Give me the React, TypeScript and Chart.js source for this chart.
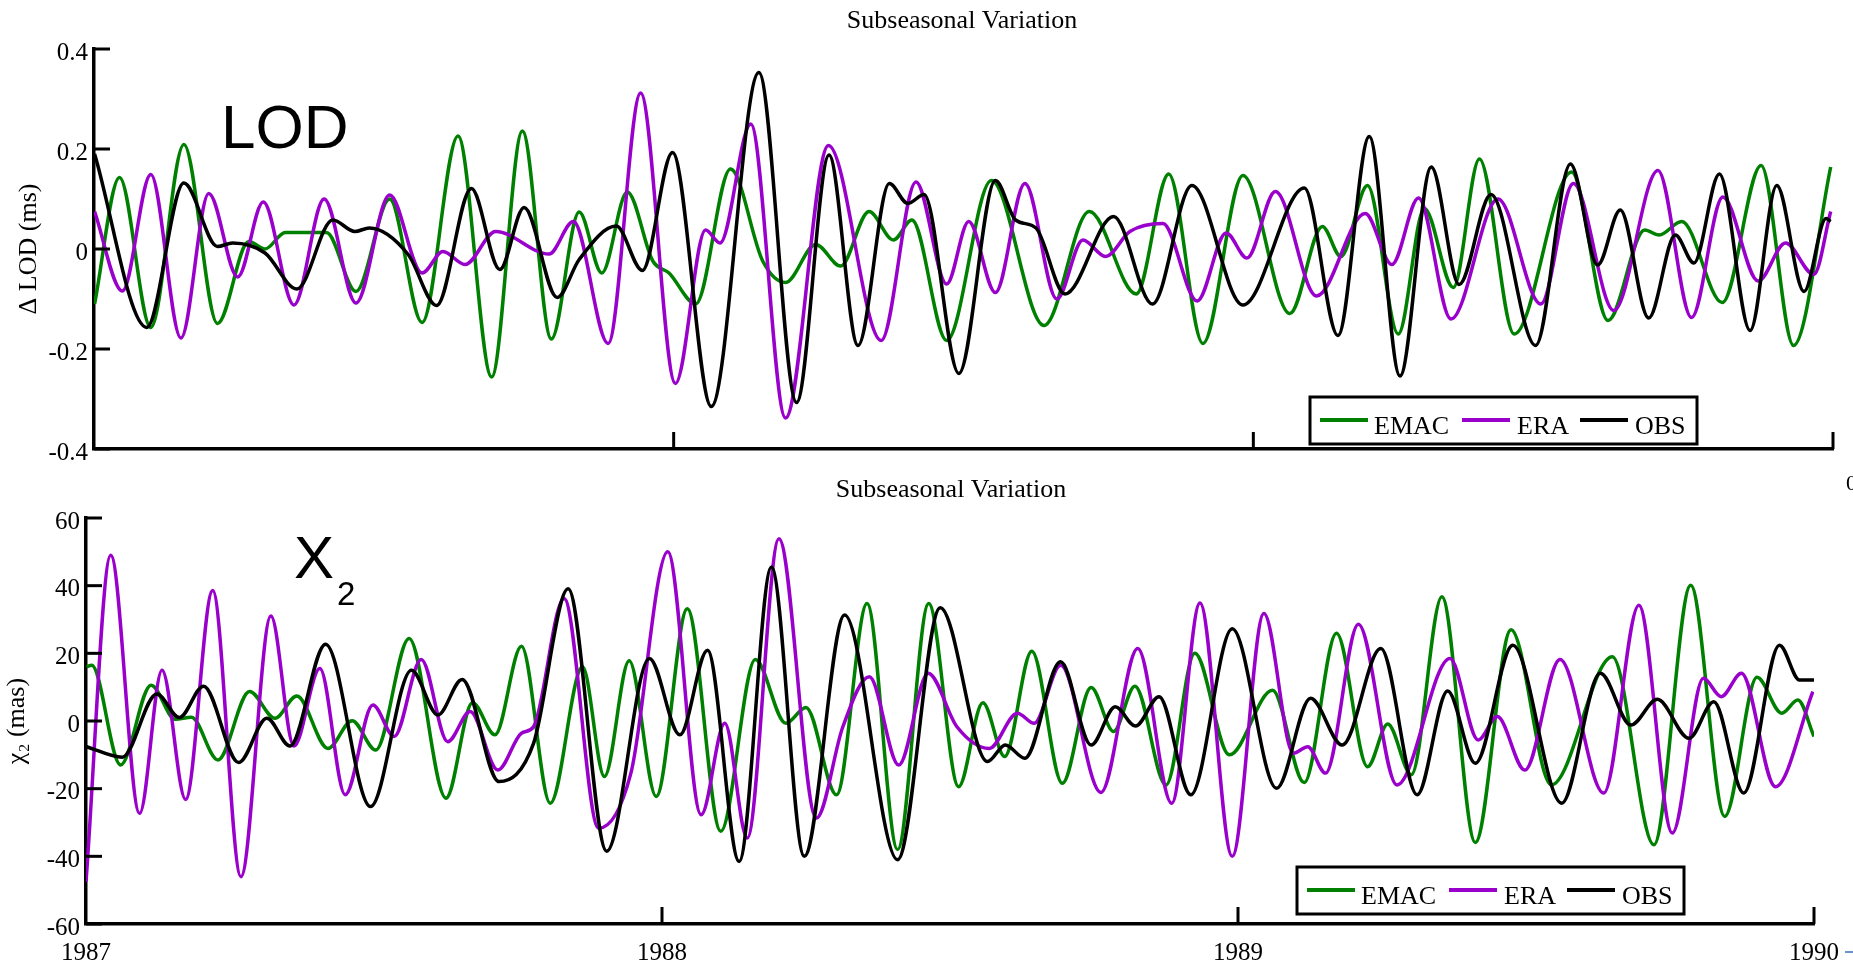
import React, { useEffect, useRef } from "react";
import { Chart, registerables } from "chart.js";

Chart.register(...registerables);

// ---------------- Data ----------------
const yearTicks = [1987, 1988, 1989, 1990];
const lodTicks = [-0.4, -0.2, 0, 0.2, 0.4];
const chiTicks = [-60, -40, -20, 0, 20, 40, 60];
const seriesNames = ["EMAC", "ERA", "OBS"];
const seriesColors = ["#008000", "#9a00cc", "#000000"];

// Top panel: Δ LOD (ms)
const lodEmacYears = [1987.001, 1987.044, 1987.098, 1987.155, 1987.213, 1987.267, 1987.295, 1987.33, 1987.401, 1987.452, 1987.51, 1987.566, 1987.628, 1987.686, 1987.739, 1987.789, 1987.837, 1987.876, 1987.92, 1987.964, 1987.992, 1988.038, 1988.098, 1988.154, 1988.193, 1988.245, 1988.288, 1988.337, 1988.379, 1988.411, 1988.471, 1988.548, 1988.639, 1988.717, 1988.798, 1988.854, 1988.913, 1988.982, 1989.063, 1989.119, 1989.151, 1989.197, 1989.25, 1989.295, 1989.345, 1989.39, 1989.45, 1989.549, 1989.612, 1989.675, 1989.7, 1989.739, 1989.809, 1989.876, 1989.932, 1989.996];
const lodEmacValues = [-0.11, 0.143, -0.157, 0.209, -0.149, 0.015, 0.0, 0.033, 0.033, -0.085, 0.1, -0.147, 0.226, -0.256, 0.236, -0.18, 0.074, -0.048, 0.114, -0.024, -0.048, -0.11, 0.16, -0.025, -0.067, 0.009, -0.034, 0.075, 0.018, 0.058, -0.183, 0.137, -0.153, 0.075, -0.09, 0.15, -0.189, 0.147, -0.129, 0.045, -0.015, 0.127, -0.17, 0.081, -0.077, 0.18, -0.17, 0.154, -0.143, 0.038, 0.028, 0.055, -0.107, 0.167, -0.193, 0.164];

const lodEraYears = [1987.001, 1987.049, 1987.098, 1987.15, 1987.198, 1987.248, 1987.292, 1987.345, 1987.397, 1987.452, 1987.51, 1987.566, 1987.602, 1987.64, 1987.693, 1987.785, 1987.827, 1987.887, 1987.943, 1988.003, 1988.055, 1988.08, 1988.133, 1988.193, 1988.267, 1988.358, 1988.418, 1988.471, 1988.509, 1988.555, 1988.606, 1988.661, 1988.706, 1988.745, 1988.787, 1988.844, 1988.903, 1988.953, 1988.989, 1989.038, 1989.109, 1989.193, 1989.239, 1989.285, 1989.341, 1989.422, 1989.496, 1989.552, 1989.622, 1989.698, 1989.756, 1989.81, 1989.871, 1989.918, 1989.967, 1989.996];
const lodEraValues = [0.075, -0.084, 0.149, -0.178, 0.111, -0.056, 0.094, -0.112, 0.1, -0.108, 0.108, -0.048, -0.005, -0.031, 0.035, -0.01, 0.055, -0.189, 0.312, -0.269, 0.038, 0.012, 0.25, -0.338, 0.207, -0.183, 0.134, -0.07, 0.055, -0.087, 0.131, -0.1, 0.018, -0.015, 0.035, 0.051, -0.104, 0.032, -0.018, 0.115, -0.094, 0.071, -0.031, 0.102, -0.14, 0.1, -0.11, 0.131, -0.123, 0.157, -0.137, 0.104, -0.064, 0.012, -0.051, 0.075];

const lodObsYears = [1987.001, 1987.091, 1987.155, 1987.213, 1987.239, 1987.295, 1987.35, 1987.412, 1987.45, 1987.475, 1987.542, 1987.591, 1987.651, 1987.7, 1987.742, 1987.799, 1987.837, 1987.901, 1987.946, 1987.998, 1988.065, 1988.147, 1988.212, 1988.268, 1988.318, 1988.372, 1988.404, 1988.432, 1988.492, 1988.555, 1988.59, 1988.625, 1988.675, 1988.759, 1988.826, 1988.894, 1988.982, 1989.088, 1989.146, 1989.2, 1989.253, 1989.307, 1989.355, 1989.41, 1989.487, 1989.547, 1989.594, 1989.633, 1989.682, 1989.728, 1989.76, 1989.804, 1989.857, 1989.903, 1989.95, 1989.988, 1989.996];
const lodObsValues = [0.19, -0.157, 0.132, 0.005, 0.012, -0.008, -0.08, 0.058, 0.035, 0.042, -0.011, -0.113, 0.121, -0.041, 0.083, -0.097, -0.021, 0.046, -0.043, 0.193, -0.315, 0.353, -0.307, 0.188, -0.193, 0.131, 0.091, 0.109, -0.249, 0.137, 0.058, 0.042, -0.09, 0.065, -0.11, 0.127, -0.112, 0.122, -0.173, 0.225, -0.254, 0.164, -0.071, 0.109, -0.193, 0.17, -0.032, 0.078, -0.138, 0.028, -0.028, 0.15, -0.163, 0.127, -0.085, 0.061, 0.055];

// Bottom panel: χ2 (mas)
const chiEmacYears = [1987.001, 1987.01, 1987.06, 1987.113, 1987.155, 1987.183, 1987.229, 1987.284, 1987.328, 1987.366, 1987.42, 1987.462, 1987.503, 1987.561, 1987.625, 1987.671, 1987.71, 1987.756, 1987.806, 1987.862, 1987.9, 1987.943, 1987.99, 1988.044, 1988.102, 1988.162, 1988.215, 1988.25, 1988.303, 1988.356, 1988.409, 1988.463, 1988.515, 1988.557, 1988.595, 1988.642, 1988.695, 1988.745, 1988.784, 1988.821, 1988.875, 1988.925, 1988.985, 1989.06, 1989.115, 1989.171, 1989.225, 1989.26, 1989.301, 1989.354, 1989.412, 1989.474, 1989.544, 1989.65, 1989.722, 1989.786, 1989.845, 1989.901, 1989.944, 1989.972, 1990.0];
const chiEmacValues = [16.0, 16.5, -13, 10.6, 0.5, 1.1, -11.5, 8.7, 0.8, 7.4, -8.1, 0.1, -8.6, 24.4, -22.8, 5.4, -4.1, 22.1, -24.3, 16.0, -16.4, 17.8, -22.3, 33.2, -32.6, 18.2, -0.7, 4.0, -21.8, 34.7, -38, 34.7, -19.4, 5.4, -10.5, 20.6, -18.4, 9.9, -3.1, 10.3, -18.9, 20.0, -10, 9.1, -18.2, 25.9, -13.5, -0.9, -15.9, 36.7, -35.9, 27.0, -18.9, 19.0, -36.6, 40.1, -28.2, 12.9, 2.3, 6.2, -4.6];

const chiEraYears = [1987.0, 1987.043, 1987.093, 1987.132, 1987.173, 1987.22, 1987.269, 1987.321, 1987.361, 1987.406, 1987.45, 1987.498, 1987.535, 1987.582, 1987.628, 1987.667, 1987.715, 1987.756, 1987.777, 1987.83, 1987.89, 1987.946, 1988.01, 1988.068, 1988.109, 1988.148, 1988.203, 1988.268, 1988.314, 1988.36, 1988.411, 1988.462, 1988.512, 1988.568, 1988.617, 1988.646, 1988.692, 1988.762, 1988.826, 1988.885, 1988.934, 1988.99, 1989.045, 1989.096, 1989.121, 1989.152, 1989.209, 1989.276, 1989.368, 1989.417, 1989.45, 1989.498, 1989.559, 1989.635, 1989.696, 1989.754, 1989.808, 1989.839, 1989.874, 1989.933, 1989.998];
const chiEraValues = [-47.5, 49, -27.3, 15, -23.2, 38.6, -46, 31, -7.4, 15.5, -21.8, 4.7, -4.6, 18.2, -6.1, 2.8, -14.5, -3.6, -1.7, 36.2, -31.7, -15.4, 50, -27.7, -0.7, -34.6, 53.9, -28.7, -1.7, 13.1, -13, 14.1, -1.7, -8.1, 2.3, -0.7, 16.5, -21.1, 21.4, -24.3, 34.9, -40, 31.8, -9.5, -7.6, -15.4, 28.6, -18.9, 18.5, -5.6, 1.3, -14.5, 18.2, -21.3, 34.2, -33.1, 12.6, 7.2, 14.1, -19.4, 8.7];

const chiObsYears = [1987.001, 1987.063, 1987.123, 1987.162, 1987.204, 1987.265, 1987.314, 1987.354, 1987.416, 1987.494, 1987.565, 1987.611, 1987.653, 1987.717, 1987.777, 1987.837, 1987.904, 1987.978, 1988.031, 1988.079, 1988.134, 1988.19, 1988.247, 1988.317, 1988.409, 1988.483, 1988.565, 1988.596, 1988.63, 1988.692, 1988.745, 1988.787, 1988.822, 1988.863, 1988.918, 1988.99, 1989.067, 1989.126, 1989.181, 1989.248, 1989.311, 1989.364, 1989.412, 1989.477, 1989.562, 1989.629, 1989.682, 1989.728, 1989.783, 1989.826, 1989.878, 1989.94, 1989.975, 1990.0];
const chiObsValues = [-7.6, -10.7, 8, 1.0, 10.3, -12.3, 0.8, -7.4, 22.7, -25.3, 15, 1.8, 12.3, -17.9, -6.6, 39.1, -38.5, 18.5, -4.1, 20.9, -41.5, 45.5, -40, 31.3, -41, 33.5, -12, -7.1, -11, 17.5, -7.1, 4.2, -1.5, 7.2, -21.8, 27.3, -19.9, 6.7, -7.1, 21.4, -21.8, 8.9, -12.5, 22.4, -24.3, 14.1, -1.2, 6.4, -5.1, 5.7, -21.3, 22.4, 12.1, 12.1];

// ---------------- Rendering ----------------
const SERIF = '"Liberation Serif", "Times New Roman", serif';
const SANS = '"Liberation Sans", Arial, sans-serif';

function pairs(xs: number[], ys: number[]) {
  return xs.map((x, i) => ({ x, y: ys[i] }));
}

type Note = { text: string; x: number; y: number; size: number };

interface PanelSpec {
  height: number;
  padRight: number;
  padTop: number;
  yWidth: number;
  xHeight: number;
  yTicks: number[];
  yTitle: string;
  yTitlePad: number;
  showXLabels: boolean;
  title: string;
  titleX: number;
  titleBaseline: number;
  notes: Note[];
  legendX: number;
  legendY: number;
  series: { x: number[]; y: number[] }[];
  extra?: (ctx: CanvasRenderingContext2D) => void;
}

function decorPlugin(spec: PanelSpec) {
  return {
    id: "decor",
    afterDraw(chart: any) {
      const ctx: CanvasRenderingContext2D = chart.ctx;
      const area = chart.chartArea;
      const xs = chart.scales.x;
      const ys = chart.scales.y;
      ctx.save();
      ctx.strokeStyle = "#000";
      ctx.lineWidth = 3;
      // inward tick marks (MATLAB style)
      spec.yTicks.forEach((v) => {
        const py = ys.getPixelForValue(v);
        ctx.beginPath();
        ctx.moveTo(area.left, py);
        ctx.lineTo(area.left + 16, py);
        ctx.stroke();
      });
      yearTicks.slice(1).forEach((v) => {
        const px = xs.getPixelForValue(v);
        ctx.beginPath();
        ctx.moveTo(px, area.bottom);
        ctx.lineTo(px, area.bottom - 17);
        ctx.stroke();
      });
      // title
      ctx.fillStyle = "#000";
      ctx.textAlign = "center";
      ctx.textBaseline = "alphabetic";
      ctx.font = `26px ${SERIF}`;
      ctx.fillText(spec.title, spec.titleX, spec.titleBaseline);
      // annotations
      ctx.textAlign = "left";
      spec.notes.forEach((n) => {
        ctx.font = `${n.size}px ${SANS}`;
        ctx.fillText(n.text, n.x, n.y);
      });
      // legend
      const lx = spec.legendX;
      const ly = spec.legendY;
      const lw = 387;
      const lh = 47;
      ctx.fillStyle = "#fff";
      ctx.fillRect(lx, ly, lw, lh);
      ctx.strokeStyle = "#000";
      ctx.lineWidth = 3;
      ctx.strokeRect(lx, ly, lw, lh);
      const lineStarts = [10, 152, 270];
      const textStarts = [64, 207, 325];
      seriesNames.forEach((name, i) => {
        ctx.strokeStyle = seriesColors[i];
        ctx.lineWidth = 4;
        ctx.beginPath();
        ctx.moveTo(lx + lineStarts[i], ly + 23);
        ctx.lineTo(lx + lineStarts[i] + 48, ly + 23);
        ctx.stroke();
        ctx.fillStyle = "#000";
        ctx.font = `26px ${SERIF}`;
        ctx.textAlign = "left";
        ctx.fillText(name, lx + textStarts[i], ly + 37);
      });
      if (spec.extra) spec.extra(ctx);
      ctx.restore();
    },
  };
}

function buildConfig(spec: PanelSpec): any {
  const yMin = spec.yTicks[0];
  const yMax = spec.yTicks[spec.yTicks.length - 1];
  const yStep = spec.yTicks[1] - spec.yTicks[0];
  const orders = [3, 2, 1];
  return {
    type: "line",
    data: {
      datasets: spec.series.map((s, i) => ({
        label: seriesNames[i],
        data: pairs(s.x, s.y),
        borderColor: seriesColors[i],
        backgroundColor: seriesColors[i],
        borderWidth: 3.5,
        pointRadius: 0,
        fill: false,
        cubicInterpolationMode: "monotone",
        order: orders[i],
      })),
    },
    options: {
      responsive: false,
      animation: false,
      events: [],
      layout: { padding: { left: 0, right: spec.padRight, top: spec.padTop, bottom: 0 } },
      plugins: {
        legend: { display: false },
        tooltip: { enabled: false },
        title: { display: false },
      },
      scales: {
        x: {
          type: "linear",
          min: yearTicks[0],
          max: yearTicks[yearTicks.length - 1],
          afterFit: (s: any) => {
            s.height = spec.xHeight;
          },
          grid: { display: false, drawTicks: false },
          border: { display: true, width: 3.5, color: "#000" },
          ticks: {
            display: spec.showXLabels,
            stepSize: 1,
            padding: 14,
            maxRotation: 0,
            autoSkip: false,
            color: "#000",
            font: { family: SERIF, size: 25 },
            callback: (v: any) => String(Math.round(Number(v))),
          },
        },
        y: {
          type: "linear",
          min: yMin,
          max: yMax,
          afterFit: (s: any) => {
            s.width = spec.yWidth;
          },
          grid: { display: false, drawTicks: false },
          border: { display: true, width: 3.5, color: "#000" },
          ticks: {
            stepSize: yStep,
            padding: 6,
            labelOffset: 4,
            color: "#000",
            font: { family: SERIF, size: 25 },
            callback: (v: any) => String(Math.round(Number(v) * 10) / 10),
          },
          title: {
            display: true,
            text: spec.yTitle,
            color: "#000",
            font: { family: SERIF, size: 26 },
            padding: { top: spec.yTitlePad, bottom: 0 },
          },
        },
      },
    },
    plugins: [decorPlugin(spec)],
  };
}

const topSpec: PanelSpec = {
  height: 470,
  padRight: 20,
  padTop: 49,
  yWidth: 94,
  xHeight: 16,
  yTicks: lodTicks,
  yTitle: "Δ LOD (ms)",
  yTitlePad: 14,
  showXLabels: false,
  title: "Subseasonal Variation",
  titleX: 962,
  titleBaseline: 28,
  notes: [{ text: "LOD", x: 221, y: 148, size: 62 }],
  legendX: 1310,
  legendY: 397,
  series: [
    { x: lodEmacYears, y: lodEmacValues },
    { x: lodEraYears, y: lodEraValues },
    { x: lodObsYears, y: lodObsValues },
  ],
};

const bottomSpec: PanelSpec = {
  height: 493,
  padRight: 34,
  padTop: 48,
  yWidth: 86,
  xHeight: 39,
  yTicks: chiTicks,
  yTitle: "χ₂ (mas)",
  yTitlePad: 2,
  showXLabels: true,
  title: "Subseasonal Variation",
  titleX: 951,
  titleBaseline: 27,
  notes: [
    { text: "X", x: 294, y: 108, size: 60 },
    { text: "2", x: 337, y: 135, size: 33 },
  ],
  legendX: 1297,
  legendY: 397,
  series: [
    { x: chiEmacYears, y: chiEmacValues },
    { x: chiEraYears, y: chiEraValues },
    { x: chiObsYears, y: chiObsValues },
  ],
  extra: (ctx) => {
    ctx.fillStyle = "#000";
    ctx.font = `22px ${SERIF}`;
    ctx.textAlign = "left";
    ctx.fillText("0", 1846, 20);
    ctx.strokeStyle = "#3b6fb6";
    ctx.lineWidth = 1.5;
    ctx.beginPath();
    ctx.moveTo(1845, 482);
    ctx.lineTo(1853, 482);
    ctx.stroke();
  },
};

export default function App() {
  const topRef = useRef<HTMLCanvasElement | null>(null);
  const bottomRef = useRef<HTMLCanvasElement | null>(null);

  useEffect(() => {
    if (!topRef.current || !bottomRef.current) return;
    const c1 = new Chart(topRef.current, buildConfig(topSpec));
    const c2 = new Chart(bottomRef.current, buildConfig(bottomSpec));
    return () => {
      c1.destroy();
      c2.destroy();
    };
  }, []);

  return (
    <div
      style={{
        position: "fixed",
        left: 0,
        top: 0,
        width: 1853,
        height: 963,
        background: "#fff",
        overflow: "hidden",
      }}
    >
      <canvas
        ref={topRef}
        width={1853}
        height={470}
        style={{ position: "absolute", left: 0, top: 0, width: 1853, height: 470 }}
      />
      <canvas
        ref={bottomRef}
        width={1853}
        height={493}
        style={{ position: "absolute", left: 0, top: 470, width: 1853, height: 493 }}
      />
    </div>
  );
}
